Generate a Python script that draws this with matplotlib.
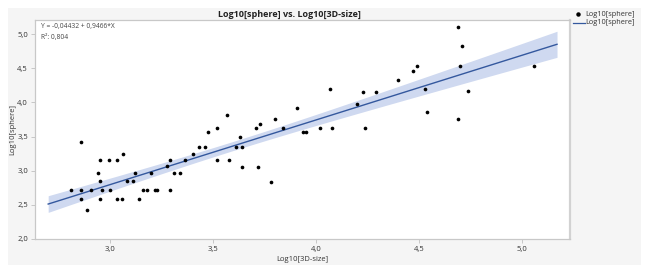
import numpy as np
import matplotlib
matplotlib.use("Agg")
import matplotlib.pyplot as plt
from matplotlib.patches import Rectangle
from matplotlib.lines import Line2D
from matplotlib.ticker import FuncFormatter

plt.rcParams['font.family'] = ['Open Sans', 'DejaVu Sans']

# ---- data ----
size_log = [2.81, 2.86, 2.86, 2.86, 2.89, 2.91, 2.94, 2.95, 2.95, 2.96, 2.95, 2.995, 3.00, 3.035,
            3.035, 3.06, 3.065, 3.085, 3.11, 3.12, 3.14, 3.16, 3.18, 3.20, 3.22, 3.23, 3.275, 3.29,
            3.29, 3.31, 3.34, 3.365, 3.405, 3.43, 3.46, 3.475, 3.52, 3.52, 3.57, 3.58, 3.61, 3.63,
            3.64, 3.64, 3.71, 3.72, 3.73, 3.78, 3.80, 3.84, 3.91, 3.935, 3.95, 4.02, 4.07, 4.08,
            4.20, 4.23, 4.24, 4.29, 4.40, 4.47, 4.49, 4.53, 4.54, 4.69, 4.69, 4.70, 4.71, 4.74, 5.06]
sphere_log = [2.72, 3.42, 2.72, 2.59, 2.43, 2.72, 2.97, 3.16, 2.85, 2.72, 2.59, 3.16, 2.72, 3.16,
              2.59, 2.59, 3.25, 2.85, 2.85, 2.97, 2.59, 2.72, 2.72, 2.97, 2.72, 2.72, 3.07, 3.16,
              2.72, 2.97, 2.97, 3.16, 3.25, 3.34, 3.34, 3.56, 3.16, 3.63, 3.81, 3.16, 3.34, 3.49,
              3.34, 3.06, 3.63, 3.06, 3.69, 2.84, 3.75, 3.63, 3.92, 3.56, 3.56, 3.63, 4.20, 3.63,
              3.97, 4.15, 3.63, 4.15, 4.32, 4.46, 4.53, 4.19, 3.86, 5.10, 3.75, 4.53, 4.82, 4.16, 4.53]
intercept = -0.04432
slope = 0.9466
r2_text = "0,804"
fit_range = [2.70, 5.17]
x_ticks = [3.0, 3.5, 4.0, 4.5, 5.0]
y_ticks = [2.0, 2.5, 3.0, 3.5, 4.0, 4.5, 5.0]
series_name = "Log10[sphere]"

W, H = 648, 273
fig = plt.figure(figsize=(W / 100, H / 100), dpi=100)
fig.patch.set_facecolor('white')

# grey panel
fig.patches.append(Rectangle((8 / W, 1 - 265 / H), 633 / W, 257 / H, transform=fig.transFigure,
                             facecolor='#f5f5f5', edgecolor='none', zorder=-10))

ax = fig.add_axes([35 / W, 1 - 239 / H, 535 / W, 219 / H])
ax.set_facecolor('white')
ax.set_xlim(2.636, 5.233)
ax.set_ylim(2.0, 5.205)

xs = np.array(size_log)
ys = np.array(sphere_log)
n = len(xs)
xx = np.linspace(fit_range[0], fit_range[1], 200)
yy = intercept + slope * xx
resid = ys - (intercept + slope * xs)
s = np.sqrt(np.sum(resid ** 2) / (n - 2))
xbar = xs.mean()
sxx = np.sum((xs - xbar) ** 2)
se = s * np.sqrt(1 / n + (xx - xbar) ** 2 / sxx)
t = 1.995
ax.fill_between(xx, yy - t * se, yy + t * se, color='#cfd9f0', lw=0, zorder=1)
ax.plot(xx, yy, color='#34589e', lw=1.0, zorder=2)
ax.scatter(xs, ys, s=7, color='black', zorder=3, linewidths=0)

fmt = FuncFormatter(lambda v, p: f"{v:.1f}".replace('.', ','))
ax.set_xticks(x_ticks)
ax.set_yticks(y_ticks)
ax.xaxis.set_major_formatter(fmt)
ax.yaxis.set_major_formatter(fmt)
ax.tick_params(labelsize=5.5, colors='#c0c0c0', labelcolor='#333333', length=3, width=0.6, pad=2)
for sp in ['left', 'bottom', 'top']:
    ax.spines[sp].set_color('#c8c8c8')
    ax.spines[sp].set_linewidth(0.9)
ax.spines['right'].set_color('#d2d2d2')
ax.spines['right'].set_linewidth(1.6)

ax.set_xlabel("Log10[3D-size]", fontsize=5.5, color='#333333', labelpad=2)
ax.set_ylabel("Log10[sphere]", fontsize=5.5, color='#333333', labelpad=1)

ax.text(0.012, 0.985, f"Y = {str(intercept).replace('.', ',')} + {str(slope).replace('.', ',')}*X",
        transform=ax.transAxes, fontsize=4.8, color='#444444', va='top', ha='left')
ax.text(0.012, 0.935, f"R\u00b2: {r2_text}", transform=ax.transAxes, fontsize=4.8,
        color='#444444', va='top', ha='left')

fig.text(289 / W, 1 - 14 / H, "Log10[sphere] vs. Log10[3D-size]", fontsize=6.5,
         fontweight='bold', ha='center', va='center', color='#222222')

# legend
fig.add_artist(Line2D([578 / W], [1 - 14 / H], marker='o', markersize=2.2, color='black',
                      linestyle='none', transform=fig.transFigure))
fig.add_artist(Line2D([573 / W, 585 / W], [1 - 23 / H, 1 - 23 / H], color='#34589e', lw=0.9,
                      transform=fig.transFigure))
fig.text(585.5 / W, 1 - 14 / H, series_name, fontsize=5.3, va='center', ha='left', color='#333333')
fig.text(585.5 / W, 1 - 23 / H, series_name, fontsize=5.3, va='center', ha='left', color='#333333')

fig.savefig("out.png", dpi=100, facecolor=fig.get_facecolor())
